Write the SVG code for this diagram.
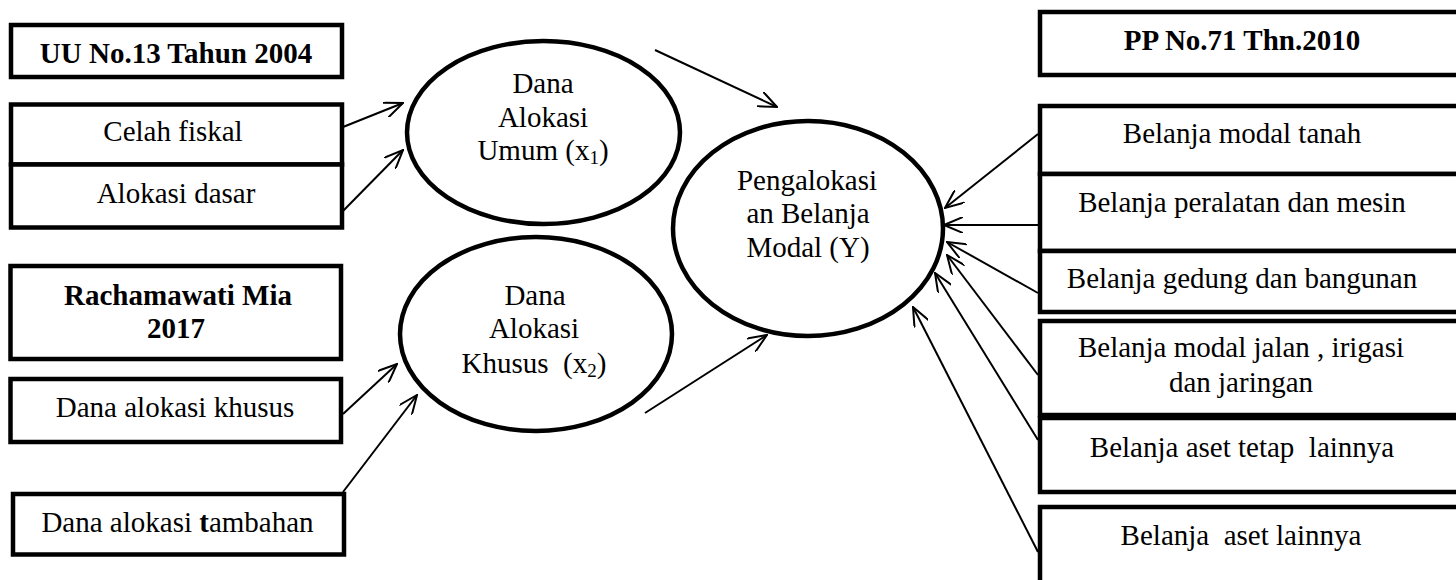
<svg xmlns="http://www.w3.org/2000/svg" width="1456" height="580" viewBox="0 0 1456 580">
<style>
.box{fill:#fff;stroke:#000;stroke-width:4.5}
.ell{fill:#fff;stroke:#000;stroke-width:4.5}
.t{font-family:"Liberation Serif","Times New Roman",serif;font-size:29px;fill:#000;text-anchor:middle;white-space:pre}
.b{font-weight:bold}
.c line{stroke:#000;stroke-width:2;marker-end:url(#arr)}
</style>
<defs>
<marker id="arr" viewBox="0 0 20 16" refX="19" refY="8" markerWidth="20" markerHeight="16" markerUnits="userSpaceOnUse" orient="auto">
<path d="M0,0 L19,8 L0,16" fill="none" stroke="#000" stroke-width="2"/>
</marker>
</defs>
<rect width="1456" height="580" fill="#fff"/>
<g id="uu">
<rect class="box" x="11" y="25" width="331" height="52"/>
<text class="t b" x="176" y="63">UU No.13 Tahun 2004</text>
</g>
<g id="celah">
<rect class="box" x="11" y="104.5" width="331" height="60"/>
<text class="t" x="173" y="141">Celah fiskal</text>
</g>
<g id="alokasi-dasar">
<rect class="box" x="11" y="164.5" width="331" height="63"/>
<text class="t" x="176" y="203">Alokasi dasar</text>
</g>
<g id="rachamawati">
<rect class="box" x="10.5" y="266" width="330.5" height="93"/>
<text class="t b" x="178" y="305">Rachamawati Mia</text>
<text class="t b" x="176" y="338">2017</text>
</g>
<g id="dak">
<rect class="box" x="10.5" y="379" width="330.5" height="63"/>
<text class="t" x="175" y="417">Dana alokasi khusus</text>
</g>
<g id="dat">
<rect class="box" x="13" y="494" width="331" height="60.5"/>
<text class="t" x="177.5" y="532">Dana alokasi <tspan class="b">t</tspan>ambahan</text>
</g>
<g id="x1">
<ellipse class="ell" cx="543.5" cy="132.5" rx="136.5" ry="91.5"/>
<text class="t" x="543" y="93">Dana</text>
<text class="t" x="543" y="127">Alokasi</text>
<text class="t" x="543" y="160">Umum (x<tspan font-size="19" dy="4">1</tspan><tspan dy="-4">)</tspan></text>
</g>
<g id="x2">
<ellipse class="ell" cx="536" cy="334" rx="136" ry="97"/>
<text class="t" x="535" y="305">Dana</text>
<text class="t" x="534" y="338">Alokasi</text>
<text class="t" x="534" y="373">Khusus  (x<tspan font-size="19" dy="4">2</tspan><tspan dy="-4">)</tspan></text>
</g>
<g id="y">
<ellipse class="ell" cx="808" cy="228.5" rx="135" ry="107.5"/>
<text class="t" x="807" y="190">Pengalokasi</text>
<text class="t" x="808" y="223">an Belanja</text>
<text class="t" x="808" y="257">Modal (Y)</text>
</g>
<g id="pp">
<rect class="box" x="1040" y="12" width="425" height="63"/>
<text class="t b" x="1242" y="50">PP No.71 Thn.2010</text>
</g>
<g id="tanah">
<rect class="box" x="1040" y="106" width="425" height="68"/>
<text class="t" x="1242" y="143">Belanja modal tanah</text>
</g>
<g id="peralatan">
<rect class="box" x="1040" y="174" width="425" height="77"/>
<text class="t" x="1242" y="212">Belanja peralatan dan mesin</text>
</g>
<g id="gedung">
<rect class="box" x="1040" y="251" width="425" height="61"/>
<text class="t" x="1242" y="288">Belanja gedung dan bangunan</text>
</g>
<g id="jalan">
<rect class="box" x="1040" y="321" width="425" height="94"/>
<text class="t" x="1241" y="357">Belanja modal jalan , irigasi</text>
<text class="t" x="1241" y="392">dan jaringan</text>
</g>
<g id="aset-tetap">
<rect class="box" x="1040" y="418" width="425" height="74"/>
<text class="t" x="1242" y="457">Belanja aset tetap  lainnya</text>
</g>
<g id="aset-lain">
<rect class="box" x="1040" y="507" width="425" height="100"/>
<text class="t" x="1241" y="545">Belanja  aset lainnya</text>
</g>
<g id="connectors" class="c">
<line x1="343" y1="127" x2="403" y2="103"/>
<line x1="343" y1="211" x2="403" y2="150"/>
<line x1="343" y1="414" x2="397" y2="364"/>
<line x1="343" y1="492" x2="417" y2="395"/>
<line x1="655" y1="50" x2="777" y2="107"/>
<line x1="645" y1="413" x2="767" y2="335"/>
<line x1="1038" y1="134" x2="945" y2="208"/>
<line x1="1038" y1="225" x2="944" y2="225"/>
<line x1="1038" y1="293" x2="947" y2="242"/>
<line x1="1038" y1="375" x2="947" y2="255"/>
<line x1="1038" y1="440" x2="935" y2="273"/>
<line x1="1038" y1="552" x2="913" y2="307"/>
</g>
</svg>
